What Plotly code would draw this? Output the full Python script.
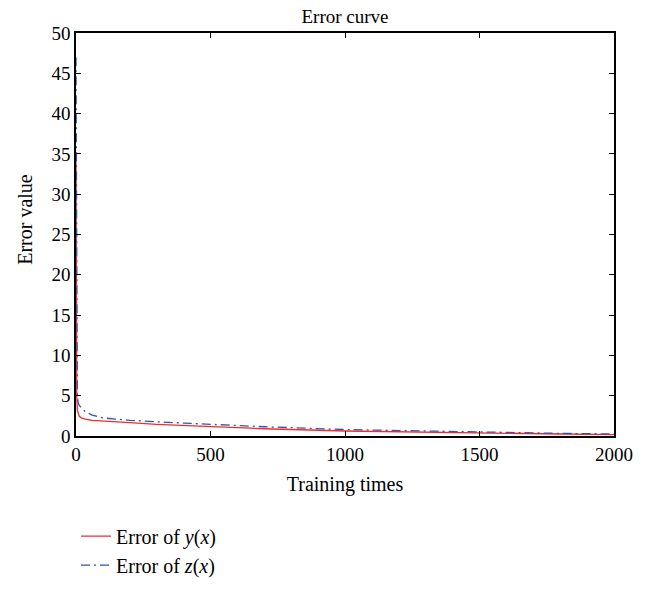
import plotly.graph_objects as go

# Training iterations (x) and error values of the two outputs
iterations = [0, 1, 2, 3, 5, 8, 12, 20, 35, 60, 100, 200, 300, 400, 500, 700,
              1000, 1300, 1500, 1800, 2000]
error_y = [35, 20, 10, 5, 3.2, 2.7, 2.45, 2.25, 2.1, 1.95, 1.85, 1.65, 1.45, 1.3,
           1.15, 0.9, 0.62, 0.45, 0.36, 0.25, 0.18]
error_z = [47, 30, 15, 8, 5, 4.2, 3.8, 3.5, 3.0, 2.6, 2.25, 1.95, 1.75, 1.6,
           1.45, 1.15, 0.8, 0.6, 0.5, 0.33, 0.25]

x_ticks = [0, 500, 1000, 1500, 2000]
y_ticks = [0, 5, 10, 15, 20, 25, 30, 35, 40, 45, 50]

FONT = "Liberation Serif"
SIZE = 19

fig = go.Figure()
fig.add_trace(go.Scatter(
    x=iterations, y=error_y, mode="lines",
    name="Error of <i>y</i>(<i>x</i>)",
    line=dict(color="#f42a2a", width=1.3),
))
fig.add_trace(go.Scatter(
    x=iterations, y=error_z, mode="lines",
    name="Error of <i>z</i>(<i>x</i>)",
    line=dict(color="#3552b0", width=1.3, dash="9px,4px,2px,4px"),
))

axis_common = dict(
    showline=True, linecolor="black", linewidth=1.5, mirror="ticks",
    ticks="inside", ticklen=5, tickwidth=1, tickcolor="black",
    showgrid=False, zeroline=False,
    tickfont=dict(family=FONT, size=SIZE, color="black"),
)

fig.update_layout(
    width=660, height=597,
    margin=dict(l=76, r=46, t=33, b=139),
    paper_bgcolor="white", plot_bgcolor="white",
    font=dict(family=FONT, size=SIZE, color="black"),
    title=dict(text="Error curve", x=(76 + 614) / 2 / 660, xanchor="center",
               y=1 - 16 / 597, yanchor="middle",
               font=dict(family=FONT, size=19, color="black")),
    xaxis=dict(range=[0, 2000], tickvals=x_ticks, **axis_common,
               title=dict(text="Training times", standoff=13,
                          font=dict(family=FONT, size=20))),
    yaxis=dict(range=[0, 50], tickvals=y_ticks, **axis_common),
    showlegend=True,
    legend=dict(x=0.0, xanchor="left", y=-0.2, yanchor="top",
                font=dict(family=FONT, size=20, color="black"),
                bgcolor="rgba(0,0,0,0)", tracegroupgap=0),
    annotations=[dict(text="Error value", xref="paper", yref="paper",
                      x=(25 - 76) / 538, y=(458 - 230) / 425,
                      xanchor="center", yanchor="middle", textangle=-90,
                      showarrow=False, font=dict(family=FONT, size=20))],
)

fig.write_html("out.html")
